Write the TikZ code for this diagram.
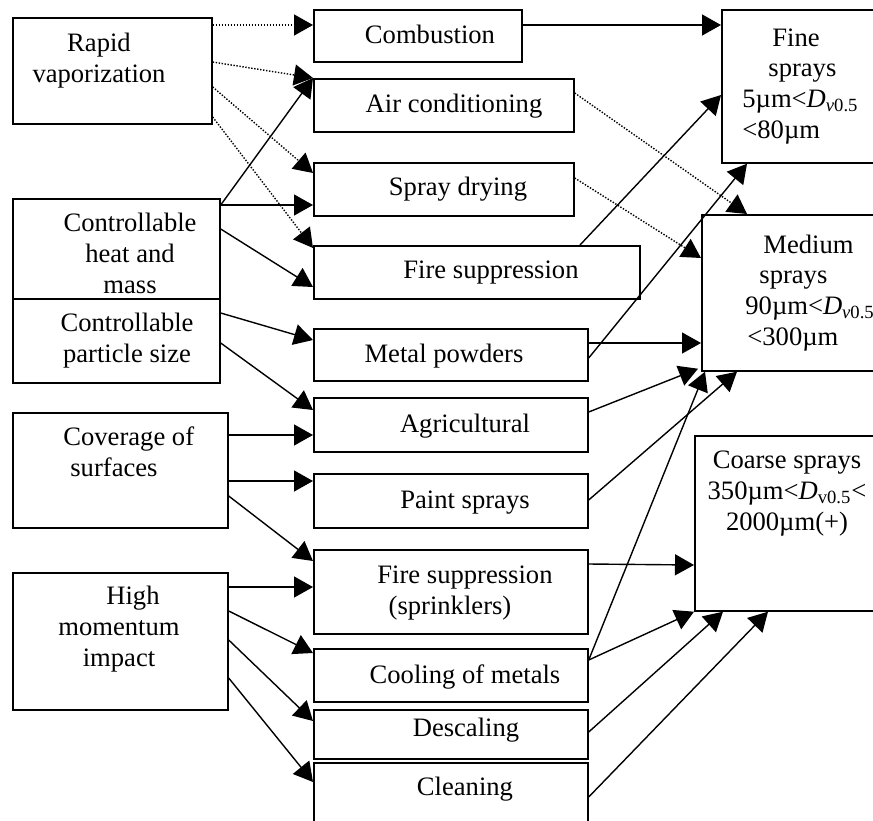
\documentclass[tikz,border=0pt]{standalone}
\usepackage{fontspec}
\setmainfont{Liberation Serif}
\usepackage{tikz}
\usetikzlibrary{arrows.meta,calc}
\tikzstyle{sprbox} = [draw=black, line width=0.85pt, rectangle, anchor=north west, inner sep=0pt]
\tikzstyle{boxtext} = [inner sep=0pt, anchor=base, align=center, font=\fontsize{13.3}{15.3}\selectfont]
\tikzstyle{link} = [line width=0.7pt, -{Triangle[length=9.5pt,width=10.5pt]}]
\tikzstyle{weaklink} = [link, dash pattern=on 0.7pt off 0.8pt]
\newcommand{\dvi}{\textit{D}\textsubscript{\textit{v}0.5}}
\newcommand{\dvu}{\textit{D}\textsubscript{v0.5}}

\begin{document}
\begin{tikzpicture}[x=0.5pt,y=-0.5pt]
\useasboundingbox (0,0) rectangle (873,820);
\clip (0,0) rectangle (873,820);

\node[sprbox, minimum width=99.5pt, minimum height=53pt] (rapid) at (12,17) {};
\node[sprbox, minimum width=103.5pt, minimum height=50pt] (heat) at (12,198) {};
\node[sprbox, minimum width=103.5pt, minimum height=42pt] (particle) at (12,298) {};
\node[sprbox, minimum width=107.5pt, minimum height=57.5pt] (cover) at (12,412) {};
\node[sprbox, minimum width=107.5pt, minimum height=68.5pt] (impact) at (12,572) {};

\node[boxtext] (rapid-t) at (99,82) {Rapid\\vaporization};
\node[boxtext] (heat-t) at (130,293) {Controllable\\heat and\\mass};
\node[boxtext] (particle-t) at (127,362) {Controllable\\particle size};
\node[boxtext, anchor=base west, align=left] (cover-t) at (63,476) {Coverage of\\\hspace*{3.5pt}surfaces};
\node[boxtext] (impact-t) at (119,666) {\hspace*{14pt}High\\momentum\\impact};

\node[sprbox, minimum width=104pt, minimum height=26pt] (comb) at (313,9) {};
\node[sprbox, minimum width=130pt, minimum height=26.5pt] (aircon) at (313,78) {};
\node[sprbox, minimum width=130pt, minimum height=26.5pt] (drying) at (313,162) {};
\node[sprbox, minimum width=163pt, minimum height=26.5pt] (fire) at (313,245) {};
\node[sprbox, minimum width=137pt, minimum height=26pt] (metal) at (313,328) {};
\node[sprbox, minimum width=137pt, minimum height=27pt] (agri) at (313,397) {};
\node[sprbox, minimum width=137pt, minimum height=27pt] (paint) at (313,473) {};
\node[sprbox, minimum width=137pt, minimum height=42pt] (sprink) at (313,549) {};
\node[sprbox, minimum width=137pt, minimum height=26.5pt] (cool) at (313,648) {};
\node[sprbox, minimum width=137pt, minimum height=24.5pt] (desc) at (313,709) {};
\node[sprbox, minimum width=137pt, minimum height=35pt] (clean) at (313,762) {};

\node[boxtext] (comb-t) at (430,43) {Combustion};
\node[boxtext] (aircon-t) at (454,112) {Air conditioning};
\node[boxtext] (drying-t) at (458,195) {Spray drying};
\node[boxtext] (fire-t) at (491,278) {Fire suppression};
\node[boxtext] (metal-t) at (444,362) {Metal powders};
\node[boxtext] (agri-t) at (465,432) {Agricultural};
\node[boxtext] (paint-t) at (465,508) {Paint sprays};
\node[boxtext] (sprink-t) at (465,614) {Fire suppression\\(sprinklers)\hspace*{15pt}};
\node[boxtext] (cool-t) at (465,683) {Cooling of metals};
\node[boxtext] (desc-t) at (466,736) {Descaling};
\node[boxtext] (clean-t) at (465,795) {Cleaning};

\node[sprbox, minimum width=100pt, minimum height=76.5pt] (fine) at (721,9) {};
\node[sprbox, minimum width=110pt, minimum height=78pt] (medium) at (701,214) {};
\node[sprbox, minimum width=115pt, minimum height=87.5pt] (coarse) at (694,435) {};

\node[boxtext, anchor=base west, align=left] (fine-t) at (742,138) {\hspace*{15pt}Fine\\\hspace*{13pt}sprays\\5µm<\dvi\\<80µm};
\node[boxtext, anchor=base west, align=left] (medium-t) at (745,345) {\hspace*{9pt}Medium\\\hspace*{7pt}sprays\\90µm<\dvi\\\hspace*{1pt}<300µm};
\node[boxtext] (coarse-t) at (787,530) {Coarse sprays\\350µm<\dvu<\\2000µm(+)};

\draw[weaklink] ($(rapid.north east)+(0,8)$) -- ($(comb.north west)+(0,16)$);
\draw[weaklink] ($(rapid.north east)+(0,45)$) -- (aircon.north west);
\draw[weaklink] ($(rapid.north east)+(0,70)$) -- ($(drying.north west)+(0,11)$);
\draw[weaklink] ($(rapid.north east)+(0,100)$) -- ($(fire.north west)+(0,3)$);

\draw[link] ($(heat.north east)+(0,7)$) -- (aircon.north west);
\draw[link] ($(heat.north east)+(0,7)$) -- ($(drying.north west)+(0,43)$);
\draw[link] ($(heat.north east)+(0,31)$) -- ($(fire.north west)+(0,42)$);
\draw[link] ($(particle.north east)+(0,15)$) -- ($(metal.north west)+(0,12)$);
\draw[link] ($(particle.north east)+(0,45)$) -- ($(agri.north west)+(0,13)$);
\draw[link] ($(cover.north east)+(0,23)$) -- ($(agri.north west)+(0,38)$);
\draw[link] ($(cover.north east)+(0,69)$) -- ($(paint.north west)+(0,8)$);
\draw[link] ($(cover.north east)+(0,84)$) -- ($(sprink.north west)+(0,12)$);
\draw[link] ($(impact.north east)+(0,15)$) -- ($(sprink.north west)+(0,38)$);
\draw[link] ($(impact.north east)+(0,39)$) -- ($(cool.north west)+(0,5)$);
\draw[link] ($(impact.north east)+(0,68)$) -- ($(desc.north west)+(0,12)$);
\draw[link] ($(impact.north east)+(0,106)$) -- ($(clean.north west)+(0,20)$);

\draw[link] ($(comb.north east)+(0,16)$) -- ($(fine.north west)+(0,16)$);
\draw[weaklink] ($(aircon.north east)+(0,15)$) -- ($(medium.north west)+(46,0)$);
\draw[weaklink] ($(drying.north east)+(0,16)$) -- ($(medium.north west)+(0,44)$);
\draw[link] ($(fire.north west)+(267,0)$) -- ($(fine.north west)+(0,86)$);
\draw[link] ($(metal.north east)+(0,30)$) -- ($(fine.south west)+(26,0)$);
\draw[link] ($(metal.north east)+(0,15)$) -- ($(medium.north west)+(0,129)$);
\draw[link] ($(agri.north east)+(0,15)$) -- ($(medium.south west)+(-3,-3)$);
\draw[link] ($(paint.north east)+(0,27)$) -- ($(medium.south west)+(36,0)$);
\draw[link] ($(cool.north east)+(0,12)$) -- ($(medium.south west)+(4,0)$);
\draw[link] ($(sprink.north east)+(0,15)$) -- ($(coarse.north west)+(0,130)$);
\draw[link] ($(cool.north east)+(0,12)$) -- (coarse.south west);
\draw[link] ($(desc.north east)+(0,23)$) -- ($(coarse.south west)+(29,0)$);
\draw[link] ($(clean.north east)+(0,35)$) -- ($(coarse.south west)+(74,0)$);
\end{tikzpicture}
\end{document}
